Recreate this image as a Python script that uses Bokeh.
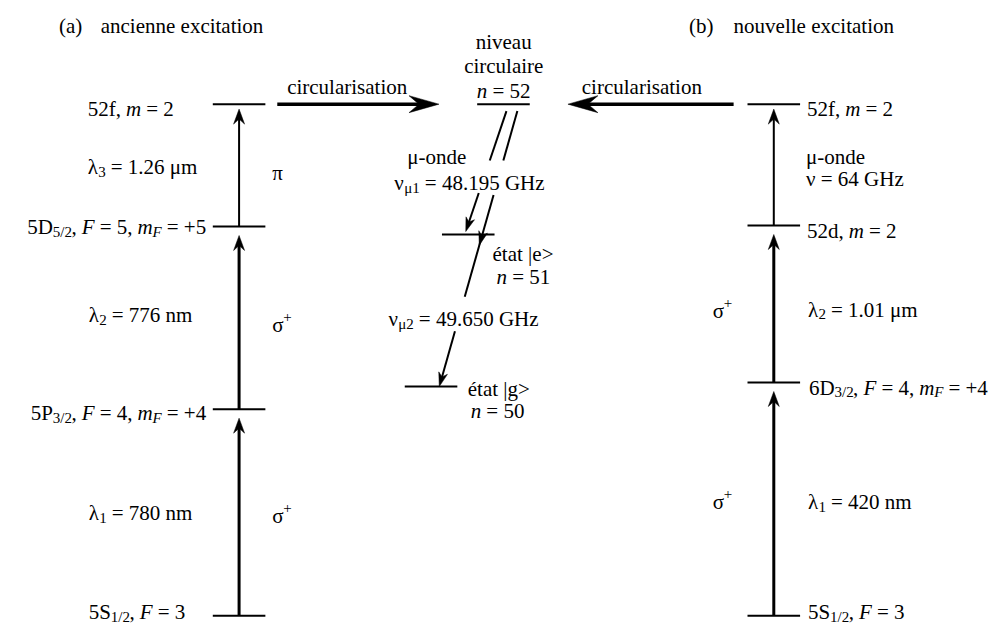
from bokeh.plotting import figure
from bokeh.models import Range1d
from bokeh.embed import file_html
from bokeh.resources import INLINE
from bokeh.core.properties import value

FONT = "Liberation Serif"
FS = 21

# ---------------- data: energy ladders (vertical position on the drawing, y grows downward)
a_names = ["5S1/2 F=3", "5P3/2 F=4 mF=+4", "5D5/2 F=5 mF=+5", "52f m=2"]
a_y = [621, 412, 227, 103]
a_x = 236.5
a_step_width = [3, 3, 2]

b_names = ["5S1/2 F=3", "6D3/2 F=4 mF=+4", "52d m=2", "52f m=2"]
b_y = [621, 385, 226, 103]
b_x = 775.5
b_step_width = [3, 3, 2]

c_names = ["n=52 circulaire", "n=51 etat e", "n=50 etat g"]
c_y = [103, 235, 389]
c_x = [503, 467.5, 430]
level_half = 26.5

# circularisation arrows (start x, tip x, at the 52f level height)
circ_x0 = [275, 735]
circ_x1 = [438, 568]
circ_y = 103

# microwave transitions (two diagonal lines)
mw_x0 = [506, 517]
mw_y0 = [110, 110]
mw_x1 = [465, 438.3]
mw_y1 = [232, 389]
mw_gaps = [[(160, 193)], [(160, 195), (298, 333)]]
mw_mid_tip_y = 246  # extra arrow head on 2nd line, below n=51

# ---------------- text metrics (Times / Liberation Serif widths, 1/1000 em)
W_R = {' ': 250, '(': 333, ')': 333, '+': 564, ',': 250, '-': 333, '.': 250, '/': 278,
       '=': 564, '>': 564, '|': 200, 'D': 722, 'F': 556, 'G': 722, 'H': 722, 'P': 556,
       'S': 556, 'a': 444, 'b': 500, 'c': 444, 'd': 500, 'e': 444, 'f': 333, 'g': 500,
       'i': 278, 'l': 278, 'm': 778, 'n': 500, 'o': 500, 'r': 333, 's': 389, 't': 278,
       'u': 500, 'v': 500, 'x': 500, 'z': 444, 'é': 444, 'λ': 500, 'μ': 560, 'ν': 470,
       'π': 540, 'σ': 530}
W_I = {'m': 722, 'n': 500, 'F': 611}


def seg_size(kind):
    return FS * (0.7 if kind in ("sub", "subi", "sup") else 1.0)


def seg_width(txt, kind):
    table = W_I if kind in ("i", "subi") else W_R
    return sum(table.get(ch, W_R.get(ch, 500)) for ch in txt) / 1000.0 * seg_size(kind)


# labels: (segments, x, baseline y, align)
labels = [
    ([("(a)", "r")], 55, 24, "left"),
    ([("ancienne excitation", "r")], 97, 24, "left"),
    ([("52f, ", "r"), ("m", "i"), (" = 2", "r")], 84, 108, "left"),
    ([("λ", "r"), ("3", "sub"), (" = 1.26 μm", "r")], 84, 167, "left"),
    ([("π", "r")], 270, 173, "left"),
    ([("5D", "r"), ("5/2", "sub"), (", ", "r"), ("F", "i"), (" = 5, ", "r"), ("m", "i"),
      ("F", "subi"), (" = +5", "r")], 203, 227, "right"),
    ([("λ", "r"), ("2", "sub"), (" = 776 nm", "r")], 85, 317, "left"),
    ([("σ", "r"), ("+", "sup")], 270, 327, "left"),
    ([("5P", "r"), ("3/2", "sub"), (", ", "r"), ("F", "i"), (" = 4, ", "r"), ("m", "i"),
      ("F", "subi"), (" = +4", "r")], 203, 416, "right"),
    ([("λ", "r"), ("1", "sub"), (" = 780 nm", "r")], 85, 517, "left"),
    ([("σ", "r"), ("+", "sup")], 270, 520, "left"),
    ([("5S", "r"), ("1/2", "sub"), (", ", "r"), ("F", "i"), (" = 3", "r")], 85, 617, "left"),
    # middle
    ([("circularisation", "r")], 345, 86, "center"),
    ([("circularisation", "r")], 642, 86, "center"),
    ([("niveau", "r")], 503, 40, "center"),
    ([("circulaire", "r")], 503, 64, "center"),
    ([("n", "i"), (" = 52", "r")], 503, 90, "center"),
    ([("μ-onde", "r")], 406, 157, "left"),
    ([("ν", "r"), ("μ1", "sub"), (" = 48.195 GHz", "r")], 393, 183, "left"),
    ([("état |e>", "r")], 492, 255, "left"),
    ([("n", "i"), (" = 51", "r")], 496, 278, "left"),
    ([("ν", "r"), ("μ2", "sub"), (" = 49.650 GHz", "r")], 387, 321, "left"),
    ([("état |g>", "r")], 467, 391, "left"),
    ([("n", "i"), (" = 50", "r")], 470, 414, "left"),
    # right panel
    ([("(b)", "r")], 690, 24, "left"),
    ([("nouvelle excitation", "r")], 735, 24, "left"),
    ([("52f, ", "r"), ("m", "i"), (" = 2", "r")], 809, 108, "left"),
    ([("μ-onde", "r")], 808, 156, "left"),
    ([("ν = 64 GHz", "r")], 808, 179, "left"),
    ([("52d, ", "r"), ("m", "i"), (" = 2", "r")], 809, 231, "left"),
    ([("σ", "r"), ("+", "sup")], 714, 312, "left"),
    ([("λ", "r"), ("2", "sub"), (" = 1.01 μm", "r")], 810, 311, "left"),
    ([("6D", "r"), ("3/2", "sub"), (", ", "r"), ("F", "i"), (" = 4, ", "r"), ("m", "i"),
      ("F", "subi"), (" = +4", "r")], 811, 390, "left"),
    ([("σ", "r"), ("+", "sup")], 714, 506, "left"),
    ([("λ", "r"), ("1", "sub"), (" = 420 nm", "r")], 810, 506, "left"),
    ([("5S", "r"), ("1/2", "sub"), (", ", "r"), ("F", "i"), (" = 3", "r")], 810, 617, "left"),
]

# ---------------- figure
W_PX, H_PX = 997, 626
X0, X1 = -4, 1001
Y0, Y1 = 632, -2
p = figure(width=W_PX, height=H_PX, x_range=Range1d(X0, X1), y_range=Range1d(Y0, Y1),
           output_backend="svg", toolbar_location=None, min_border=0,
           x_axis_type=None, y_axis_type=None, outline_line_color=None,
           background_fill_color="white", border_fill_color="white")
p.grid.visible = False

# data units per pixel (to keep arrow heads undistorted)
XS = (X1 - X0) / W_PX
YS = (Y0 - Y1) / H_PX


def head(xs, ys, xt, yt, L, W, notch):
    # geometry built in pixel space, then converted back to data units
    dx, dy = (xt - xs) / XS, (yt - ys) / YS
    n = (dx * dx + dy * dy) ** 0.5
    ux, uy = dx / n, dy / n
    px, py = -uy, ux
    bx, by = -L * ux, -L * uy
    nx, ny = -(L - notch) * ux, -(L - notch) * uy
    poly_x = [xt, xt + (bx + W / 2 * px) * XS, xt + nx * XS, xt + (bx - W / 2 * px) * XS]
    poly_y = [yt, yt + (by + W / 2 * py) * YS, yt + ny * YS, yt + (by - W / 2 * py) * YS]
    return poly_x, poly_y, (xt + (nx + ux) * XS, yt + (ny + uy) * YS)


head_xs, head_ys = [], []
shaft = {}


def add_shaft(w, x0, y0, x1, y1):
    s = shaft.setdefault(w, ([], [], [], []))
    s[0].append(x0); s[1].append(y0); s[2].append(x1); s[3].append(y1)


# levels
lv_x0, lv_x1, lv_y = [], [], []
for y in a_y:
    lv_x0.append(a_x - level_half); lv_x1.append(a_x + level_half); lv_y.append(y)
for y in b_y:
    lv_x0.append(b_x - level_half); lv_x1.append(b_x + level_half); lv_y.append(y)
for x, y in zip(c_x, c_y):
    lv_x0.append(x - level_half); lv_x1.append(x + level_half); lv_y.append(y)
p.segment(x0=lv_x0, y0=lv_y, x1=lv_x1, y1=lv_y, line_width=2, line_color="black")

# ladder arrows
for xc, ys_, widths in [(a_x, a_y, a_step_width), (b_x, b_y, b_step_width)]:
    for i, w in enumerate(widths):
        y_start, y_end = ys_[i], ys_[i + 1]
        gap = 9 if w >= 3 else 5
        tip = y_end + gap
        hx, hy, (sx, sy) = head(xc, y_start, xc, tip, 15, 11, 5)
        head_xs.append(hx); head_ys.append(hy)
        add_shaft(w, xc, y_start, sx, sy)

# circularisation arrows
for x0, x1 in zip(circ_x0, circ_x1):
    hx, hy, (sx, sy) = head(x0, circ_y, x1, circ_y, 30, 17, 10)
    head_xs.append(hx); head_ys.append(hy)
    add_shaft(3.5, x0, circ_y, sx, sy)

# microwave diagonal lines
for k in range(2):
    x0, y0, x1, y1 = mw_x0[k], mw_y0[k], mw_x1[k], mw_y1[k]

    def xat(y):
        return x0 + (x1 - x0) * (y - y0) / (y1 - y0)

    hx, hy, (sx, sy) = head(x0, y0, x1, y1, 14, 9, 4)
    head_xs.append(hx); head_ys.append(hy)
    pts = [y0]
    for g0, g1 in mw_gaps[k]:
        pts += [g0, g1]
    pts.append(sy)
    for j in range(0, len(pts), 2):
        add_shaft(2, xat(pts[j]), pts[j], xat(pts[j + 1]), pts[j + 1])
    if k == 1:
        hx, hy, _ = head(x0, y0, xat(mw_mid_tip_y), mw_mid_tip_y, 14, 9, 4)
        head_xs.append(hx); head_ys.append(hy)

for w, (sx0, sy0, sx1, sy1) in shaft.items():
    p.segment(x0=sx0, y0=sy0, x1=sx1, y1=sy1, line_width=w, line_color="black")
p.patches(xs=head_xs, ys=head_ys, fill_color="black", line_color="black", line_width=0.5)

# texts (leading spaces are collapsed in SVG, so they are turned into offsets)
groups = {}
for segs, x, y, align in labels:
    total = sum(seg_width(t, k) for t, k in segs)
    if align == "right":
        cx = x - total
    elif align == "center":
        cx = x - total / 2
    else:
        cx = x
    for t, k in segs:
        size = round(seg_size(k))
        style = "italic" if k in ("i", "subi") else "normal"
        dy = 5 if k in ("sub", "subi") else (-8 if k == "sup" else 0)
        stripped = t.lstrip(" ")
        lead = seg_width(t[:len(t) - len(stripped)], k)
        stripped = stripped.rstrip(" ")
        if stripped:
            g = groups.setdefault((size, style), ([], [], []))
            g[0].append(cx + lead); g[1].append(y + dy); g[2].append(stripped)
        cx += seg_width(t, k)

for (size, style), (gx, gy, gt) in groups.items():
    p.text(x=gx, y=gy, text=gt, text_font=value(FONT), text_font_size=f"{size}px",
           text_font_style=style, text_baseline="alphabetic", text_align="left",
           text_color="black")

open("out.html", "w").write(file_html(p, INLINE))
